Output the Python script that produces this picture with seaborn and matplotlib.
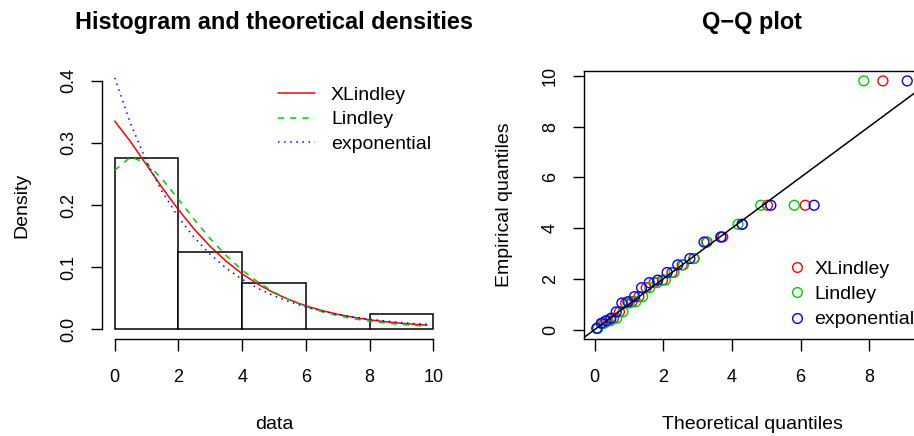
import matplotlib
matplotlib.use("Agg")
import matplotlib.pyplot as plt
import seaborn as sns
import pandas as pd
from matplotlib.lines import Line2D

# ---------------- data ----------------
# observed sample (sorted) - also the empirical quantiles of the Q-Q plot
data_sorted = [0.05, 0.25, 0.35, 0.45, 0.70, 1.05, 1.10, 1.30, 1.65, 1.85,
               1.95, 2.25, 2.55, 2.80, 3.45, 3.65, 4.15, 4.90, 4.90, 9.80]
hist_bins = [0, 2, 4, 6, 8, 10]

# fitted densities
dens_x = [0, 0.5, 1, 1.5, 2, 2.5, 3, 3.5, 4, 4.5, 5, 5.5, 6, 6.5, 7, 7.5,
          8, 8.5, 9, 9.5, 9.8]
xlindley_dens = [0.3352, 0.3018, 0.2645, 0.2272, 0.1923, 0.1608, 0.1331,
                 0.1093, 0.0891, 0.0723, 0.0583, 0.0469, 0.0375, 0.0299,
                 0.0238, 0.0189, 0.0149, 0.0118, 0.0093, 0.0073, 0.0063]
lindley_dens = [0.2560, 0.2774, 0.2673, 0.2414, 0.2093, 0.1764, 0.1457,
                0.1184, 0.0951, 0.0756, 0.0596, 0.0466, 0.0363, 0.0281,
                0.0216, 0.0166, 0.0127, 0.0097, 0.0074, 0.0056, 0.0047]
exp_dens = [0.4050, 0.3308, 0.2701, 0.2206, 0.1802, 0.1472, 0.1202, 0.0982,
            0.0802, 0.0655, 0.0535, 0.0437, 0.0357, 0.0291, 0.0238, 0.0194,
            0.0159, 0.0130, 0.0106, 0.0086, 0.0077]

# theoretical quantiles for the Q-Q plot
xlindley_q = [0.075, 0.229, 0.387, 0.552, 0.723, 0.903, 1.091, 1.291, 1.504,
              1.733, 1.980, 2.251, 2.551, 2.888, 3.276, 3.733, 4.297, 5.037,
              6.135, 8.400]
lindley_q = [0.096, 0.282, 0.463, 0.644, 0.825, 1.010, 1.200, 1.398, 1.605,
             1.825, 2.059, 2.313, 2.591, 2.902, 3.256, 3.671, 4.178, 4.841,
             5.818, 7.842]
exp_q = [0.063, 0.193, 0.330, 0.475, 0.629, 0.794, 0.970, 1.161, 1.366,
         1.591, 1.838, 2.113, 2.422, 2.775, 3.188, 3.683, 4.300, 5.134,
         6.395, 9.108]

dist_names = ["XLindley", "Lindley", "exponential"]
dist_colors = ["#FF0000", "#00CD00", "#0000FF"]

# ---------------- style ----------------
sns.set_theme(style="ticks")
plt.rcParams["font.family"] = ["Liberation Sans", "DejaVu Sans"]
plt.rcParams.update({
    "font.size": 14,
    "axes.linewidth": 1.0,
    "axes.edgecolor": "black",
    "xtick.color": "black",
    "ytick.color": "black",
    "xtick.major.size": 8.5,
    "ytick.major.size": 8.0,
    "xtick.major.width": 1.0,
    "ytick.major.width": 1.0,
    "xtick.major.pad": 13,
    "ytick.major.pad": 10,
    "xtick.labelsize": 13,
    "ytick.labelsize": 13,
    "axes.labelsize": 14,
    "legend.fontsize": 14,
    "text.color": "black",
    "axes.labelcolor": "black",
})

W, H = 914, 436
fig = plt.figure(figsize=(W / 100, H / 100), dpi=100)


def rect(l, r, t, b):
    return [l / W, 1 - b / H, (r - l) / W, (b - t) / H]


ax1 = fig.add_axes(rect(102, 446, 71, 339))
ax2 = fig.add_axes(rect(584, 920, 71, 339))

# ---------------- histogram + densities ----------------
sns.histplot(x=data_sorted, bins=hist_bins, stat="density", ax=ax1,
             color="white", edgecolor="black", linewidth=1.1, alpha=1)

dens_df = pd.DataFrame({"x": dens_x, "XLindley": xlindley_dens,
                        "Lindley": lindley_dens, "exponential": exp_dens})
styles = ["-", (0, (4, 4)), (0, (1, 3))]
for name, col, ls in zip(dist_names, dist_colors, styles):
    sns.lineplot(data=dens_df, x="x", y=name, ax=ax1, color=col,
                 linestyle=ls, linewidth=1.1)

ax1.set_xlim(-0.4, 10.4)
ax1.set_ylim(-0.016, 0.416)
ax1.set_xticks([0, 2, 4, 6, 8, 10])
ax1.set_yticks([0, 0.1, 0.2, 0.3, 0.4])
ax1.set_yticklabels(["0.0", "0.1", "0.2", "0.3", "0.4"])
ax1.tick_params(axis="y", labelrotation=90)
for lab in ax1.get_yticklabels():
    lab.set_va("center")
ax1.spines["top"].set_visible(False)
ax1.spines["right"].set_visible(False)
ax1.spines["left"].set_bounds(0, 0.4)
ax1.spines["bottom"].set_bounds(0, 10)
ax1.set_xlabel("data", labelpad=22)
ax1.set_ylabel("Density", labelpad=21)
ax1.set_title("Histogram and theoretical densities", fontweight="bold",
              fontsize=16.9, pad=30)

handles1 = [Line2D([], [], color=c, linestyle=ls, linewidth=1.1)
            for c, ls in zip(dist_colors, styles)]
ax1.legend(handles1, dist_names, loc="upper left",
           bbox_to_anchor=(278 / W, 1 - 86 / H), bbox_transform=fig.transFigure,
           frameon=False, borderpad=0, borderaxespad=0, handlelength=1.9,
           handletextpad=0.82, labelspacing=0.37)

# ---------------- Q-Q plot ----------------
for name, col, q in zip(dist_names, dist_colors, [xlindley_q, lindley_q, exp_q]):
    sns.scatterplot(x=q, y=data_sorted, ax=ax2, marker="o", s=50,
                    facecolor="none", edgecolor=col, linewidth=1.0)
ax2.axline((0, 0), slope=1, color="black", linewidth=1.1)
ax2.set_xlim(-0.31, 9.48)
ax2.set_ylim(-0.37, 10.19)
ax2.set_xticks([0, 2, 4, 6, 8])
ax2.set_yticks([0, 2, 4, 6, 8, 10])
ax2.tick_params(axis="y", labelrotation=90)
for lab in ax2.get_yticklabels():
    lab.set_va("center")
ax2.set_xlabel("Theoretical quantiles", labelpad=22)
ax2.set_ylabel("Empirical quantiles", labelpad=21)
ax2.set_title("Q\u2212Q plot", fontweight="bold", fontsize=16.9, pad=30)

handles2 = [Line2D([], [], linestyle="none", marker="o", markersize=7,
                   markerfacecolor="none", markeredgecolor=c,
                   markeredgewidth=1.0) for c in dist_colors]
ax2.legend(handles2, dist_names, loc="upper left",
           bbox_to_anchor=(787.3 / W, 1 - 260 / H), bbox_transform=fig.transFigure,
           frameon=False, borderpad=0, borderaxespad=0, handlelength=1.0,
           handletextpad=0.39, labelspacing=0.4)

fig.savefig("out.png", dpi=100)
